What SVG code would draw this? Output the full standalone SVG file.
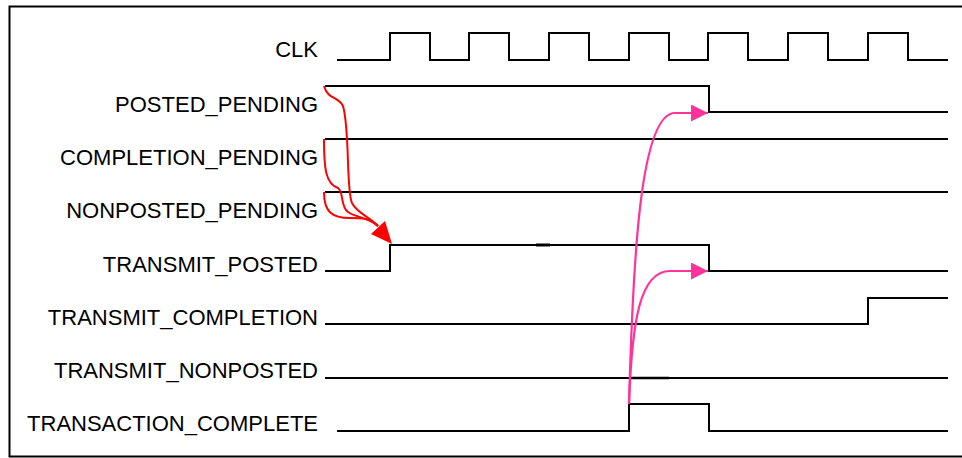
<svg xmlns="http://www.w3.org/2000/svg" width="962" height="458" viewBox="0 0 962 458">
  <style>
    .lbl { font-family: "Liberation Sans", Arial, sans-serif; font-size: 22px; fill: #000; text-anchor: end; }
    .wave { fill: none; stroke: #000; stroke-width: 2; stroke-linejoin: miter; }
    .red { fill: none; stroke: #ff0000; stroke-width: 2; }
    .pink { fill: none; stroke: #ff3399; stroke-width: 2.2; }
  </style>
  <defs>
    <marker id="ahPink" viewBox="0 0 10 10" refX="10" refY="5" markerWidth="17" markerHeight="17" markerUnits="userSpaceOnUse" orient="auto">
      <path d="M0,0 L10,5 L0,10 Z" fill="#ff3399"/>
    </marker>
  </defs>

  <rect x="9.5" y="6.5" width="970" height="450" fill="#fff" stroke="#000" stroke-width="2"/>

  <g id="sig-clk">
    <text class="lbl" x="318" y="57">CLK</text>
    <path class="wave" d="M337,60 H390 V33 H430 V60 H469 V33 H509 V60 H549 V33 H589 V60 H629 V33 H669 V60 H708 V33 H748 V60 H788 V33 H828 V60 H868 V33 H908 V60 H948"/>
  </g>
  <g id="sig-posted-pending">
    <text class="lbl" x="318" y="112">POSTED_PENDING</text>
    <path class="wave" d="M325,86 H709 V112 H948"/>
  </g>
  <g id="sig-completion-pending">
    <text class="lbl" x="318" y="165">COMPLETION_PENDING</text>
    <path class="wave" d="M325,139 H948"/>
  </g>
  <g id="sig-nonposted-pending">
    <text class="lbl" x="318" y="218">NONPOSTED_PENDING</text>
    <path class="wave" d="M325,192 H948"/>
  </g>
  <g id="sig-transmit-posted">
    <text class="lbl" x="318" y="272">TRANSMIT_POSTED</text>
    <path class="wave" d="M325,271 H390 V245 H709 V271 H948"/>
    <path d="M536,245 H550" stroke="#000" stroke-width="3"/>
  </g>
  <g id="sig-transmit-completion">
    <text class="lbl" x="318" y="325">TRANSMIT_COMPLETION</text>
    <path class="wave" d="M325,324 H868 V298 H948"/>
  </g>
  <g id="sig-transmit-nonposted">
    <text class="lbl" x="318" y="378">TRANSMIT_NONPOSTED</text>
    <path class="wave" d="M325,378 H948"/>
    <path d="M630,378 H669" stroke="#000" stroke-width="2.6"/>
  </g>
  <g id="sig-transaction-complete">
    <text class="lbl" x="318" y="431">TRANSACTION_COMPLETE</text>
    <path class="wave" d="M337,431 H629 V404 H709 V431 H948"/>
  </g>

  <g id="connectors">
    <!-- pending flags trigger TRANSMIT_POSTED -->
    <path class="red" d="M324,86 C328,100 338,96 343,106 C350,130 346,190 352,203 C358,214 366,214 378,226"/>
    <path class="red" d="M324,139 C324,170 326,184 338,188 C344,192 340,206 348,212 C356,218 366,216 378,226"/>
    <path class="red" d="M324,192 C324,212 332,218 350,218 C362,218 370,218 378,226"/>
    <path d="M392,244 L371,234 L385,221 Z" fill="#ff0000"/>
    <!-- TRANSACTION_COMPLETE clears pending and transmit -->
    <path class="pink" d="M629,404 C633,260 640,113 675,113 L708,113" marker-end="url(#ahPink)"/>
    <path class="pink" d="M629,404 C632,320 640,271 670,271 L708,271" marker-end="url(#ahPink)"/>
  </g>
</svg>
